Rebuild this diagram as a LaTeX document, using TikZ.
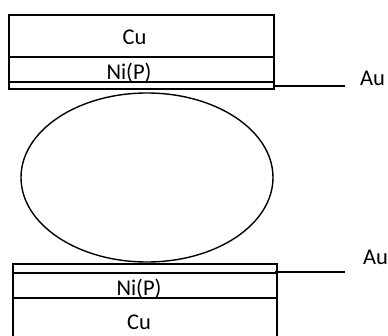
\documentclass[tikz,border=0pt]{standalone}
\usepackage{fontspec}
\setmainfont{Carlito}
\begin{document}
\begin{tikzpicture}[x=1pt,y=-1pt,
  layer/.style={draw,line width=1.4pt},
  lbl/.style={inner sep=0pt,anchor=base,font=\fontsize{22.5}{26}\selectfont},
  lead/.style={line width=1.4pt}]
\useasboundingbox (0,0) rectangle (388,336);
% top stack
\draw[layer] (9,15) rectangle (274,57);
\draw[layer] (9,57) rectangle (274,82);
\draw[layer] (9,82) rectangle (274,89);
\node[lbl] (cuT) at (134.5,45) {Cu};
\node[lbl] (niT) at (129,80) {Ni(P)};
\coordinate (auTend) at (274,86);
\node[lbl,anchor=base west] (auT) at (360,86) {Au};
\coordinate (auTline) at (345,86);
\draw[lead] (auTend) -- (auTline);
% solder ball
\draw[line width=1.4pt] (147,177.5) ellipse [x radius=126, y radius=84.5];
% bottom stack
\draw[layer] (13,264) rectangle (277,273);
\draw[layer] (13,273) rectangle (277,298);
\draw[layer] (13,340) -- (13,298) -- (277,298) -- (277,340);
\node[lbl] (niB) at (139,296) {Ni(P)};
\node[lbl] (cuB) at (139,330) {Cu};
\coordinate (auBend) at (276,272);
\coordinate (auBline) at (345,272);
\node[lbl,anchor=base west] (auB) at (363,265) {Au};
\draw[lead] (auBend) -- (auBline);
\fill (auBend) circle (1.3);
\end{tikzpicture}
\end{document}
